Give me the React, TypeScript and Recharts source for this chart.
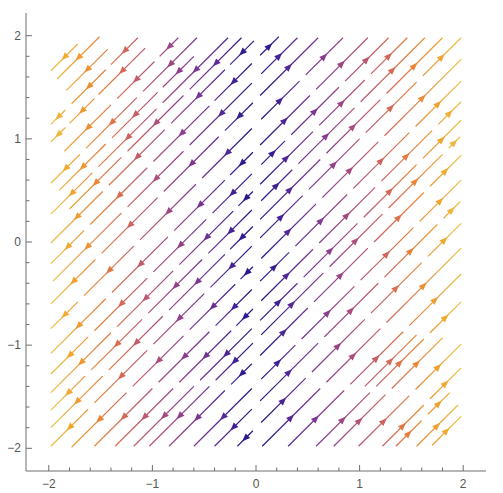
import React from 'react';
import { ScatterChart, XAxis, YAxis, ReferenceLine, Scatter } from 'recharts';

// Streamline intercepts (y - x along each line)
const streamIntercepts: number[] = [
  3.64, 3.5, 3.3, 3.12, 2.95, 2.73, 2.55, 2.4, 2.25, 2.12, 1.97, 1.77, 1.58, 1.38, 1.14, 0.9,
  0.7, 0.52, 0.35, 0.18, 0.0, -0.21, -0.42, -0.62, -0.8, -0.95, -1.14, -1.38, -1.58, -1.8,
  -2.04, -2.29, -2.45, -2.56, -2.73, -2.97, -3.2, -3.33, -3.53, -3.67,
];

// Visible pieces of each streamline, as [x start, x end]
const streamCuts: number[][][] = [
  [[-1.98, -1.72]],
  [[-1.92, -1.51]],
  [[-1.83, -1.43]],
  [[-1.98, -1.84], [-1.78, -1.45], [-1.4, -1.14]],
  [[-1.98, -1.84], [-1.8, -1.56], [-1.52, -1.07]],
  [[-1.85, -1.4], [-1.34, -0.98], [-0.93, -0.75]],
  [[-1.98, -1.7], [-1.64, -1.15], [-1.09, -0.57]],
  [[-1.9, -1.45], [-1.39, -0.95], [-0.9, -0.6]],
  [[-1.98, -1.58], [-1.52, -0.96], [-0.9, -0.27]],
  [[-1.8, -1.3], [-1.24, -0.7], [-0.64, -0.14]],
  [[-1.98, -1.48], [-1.42, -0.88], [-0.82, -0.3], [-0.25, -0.02]],
  [[-1.98, -1.66], [-1.6, -1.05], [-0.99, -0.45], [-0.4, -0.04], [0.04, 0.22]],
  [[-1.96, -1.3], [-1.24, -0.7], [-0.64, -0.04], [0.05, 0.4]],
  [[-1.98, -1.55], [-1.49, -0.95], [-0.89, -0.36], [-0.3, -0.03], [0.04, 0.6]],
  [[-1.98, -1.72], [-1.66, -1.18], [-1.12, -0.58], [-0.52, -0.04], [0.05, 0.42], [0.48, 0.84]],
  [[-1.98, -1.45], [-1.39, -0.85], [-0.79, -0.3], [-0.25, -0.03], [0.04, 0.52], [0.58, 1.08]],
  [[-1.98, -1.62], [-1.56, -1.05], [-0.99, -0.48], [-0.42, -0.04], [0.05, 0.28], [0.34, 0.8], [0.86, 1.28]],
  [[-1.98, -1.4], [-1.34, -0.8], [-0.74, -0.22], [-0.17, -0.03], [0.04, 0.55], [0.61, 1.05], [1.11, 1.46]],
  [[-1.98, -1.65], [-1.59, -1.1], [-1.04, -0.52], [-0.46, -0.04], [0.05, 0.35], [0.41, 0.95], [1.01, 1.63]],
  [[-1.98, -1.48], [-1.42, -0.9], [-0.84, -0.3], [-0.25, -0.03], [0.04, 0.62], [0.68, 1.2], [1.26, 1.8]],
  [[-1.98, -1.62], [-1.56, -1.05], [-0.99, -0.5], [-0.44, -0.04], [0.04, 0.45], [0.51, 1.0], [1.06, 1.55], [1.61, 1.98]],
  [[-1.78, -1.25], [-1.19, -0.7], [-0.64, -0.2], [-0.15, -0.03], [0.05, 0.58], [0.64, 1.18], [1.24, 1.98]],
  [[-1.56, -1.0], [-0.94, -0.45], [-0.39, -0.04], [0.04, 0.32], [0.38, 0.88], [0.94, 1.48], [1.54, 1.98]],
  [[-1.36, -0.8], [-0.74, -0.24], [-0.19, -0.03], [0.05, 0.55], [0.61, 1.15], [1.21, 1.7], [1.76, 1.98]],
  [[-1.18, -0.6], [-0.54, -0.04], [0.04, 0.4], [0.46, 0.98], [1.04, 1.55], [1.61, 1.98]],
  [[-1.03, -0.45], [-0.39, -0.03], [0.05, 0.65], [0.71, 1.22], [1.28, 1.8], [1.86, 1.97]],
  [[-0.84, -0.3], [-0.24, -0.04], [0.04, 0.5], [0.56, 1.08], [1.14, 1.62], [1.68, 1.98]],
  [[-0.6, -0.04], [0.05, 0.38], [0.44, 0.95], [1.01, 1.52], [1.58, 1.98]],
  [[-0.4, -0.04], [0.04, 0.6], [0.66, 1.18], [1.24, 1.75], [1.81, 1.97]],
  [[-0.18, -0.03], [0.05, 0.48], [0.54, 1.05], [1.11, 1.6], [1.66, 1.98]],
  [[0.06, 0.62], [0.68, 1.2], [1.26, 1.98]],
  [[0.31, 0.85], [0.91, 1.42], [1.48, 1.98]],
  [[1.05, 1.55]],
  [[0.58, 1.1], [1.16, 1.62], [1.68, 1.98]],
  [[0.75, 1.25], [1.31, 1.8]],
  [[0.99, 1.48], [1.54, 1.98]],
  [[1.22, 1.62], [1.68, 1.98]],
  [[1.35, 1.6], [1.66, 1.87]],
  [[1.55, 1.95]],
  [[1.7, 1.98]],
];

const axisTicks: number[] = [
  -2, -1.8, -1.6, -1.4, -1.2, -1, -0.8, -0.6, -0.4, -0.2, 0, 0.2, 0.4, 0.6, 0.8, 1, 1.2, 1.4,
  1.6, 1.8, 2,
];
const majorTickLabels: Record<string, string> = { '-2': '−2', '-1': '−1', '0': '0', '1': '1', '2': '2' };

const colorStops: [number, number[]][] = [
  [0, [28, 18, 130]],
  [0.1, [62, 32, 150]],
  [0.22, [104, 48, 150]],
  [0.36, [142, 62, 140]],
  [0.5, [178, 82, 122]],
  [0.64, [212, 102, 88]],
  [0.76, [234, 132, 55]],
  [0.9, [240, 165, 45]],
  [1, [234, 196, 72]],
];

function colorAt(t: number): string {
  const v = Math.max(0, Math.min(1, t));
  for (let i = 1; i < colorStops.length; i++) {
    const [t1, c1] = colorStops[i];
    const [t0, c0] = colorStops[i - 1];
    if (v <= t1) {
      const f = (v - t0) / (t1 - t0);
      const c = c0.map((a, k) => Math.round(a + (c1[k] - a) * f));
      return `rgb(${c[0]},${c[1]},${c[2]})`;
    }
  }
  const c = colorStops[colorStops.length - 1][1];
  return `rgb(${c[0]},${c[1]},${c[2]})`;
}

type Seg = { id: string; c: number; x0: number; x1: number };
const segments: Seg[] = [];
streamIntercepts.forEach((c, i) => {
  streamCuts[i].forEach(([x0, x1], j) => segments.push({ id: `sg${i}_${j}`, c, x0, x1 }));
});

const StreamSeg = (props: any) => {
  const { x1, y1, x2, y2, seg } = props;
  if (![x1, y1, x2, y2].every((v: any) => typeof v === 'number' && isFinite(v))) return null;
  const s: Seg = seg;
  const c0 = colorAt(Math.abs(s.x0) / 2);
  const c1 = colorAt(Math.abs(s.x1) / 2);
  const xm = (s.x0 + s.x1) / 2;
  const cm = colorAt(Math.abs(xm) / 2);
  const len = Math.hypot(x2 - x1, y2 - y1) || 1;
  let ux = (x2 - x1) / len;
  let uy = (y2 - y1) / len;
  if (xm < 0) {
    ux = -ux;
    uy = -uy;
  }
  const mx = (x1 + x2) / 2;
  const my = (y1 + y2) / 2;
  const L = 8;
  const W = 3.2;
  const tx = mx + (ux * L) / 2;
  const ty = my + (uy * L) / 2;
  const bx = mx - (ux * L) / 2;
  const by = my - (uy * L) / 2;
  const px = -uy;
  const py = ux;
  const pts = `${tx},${ty} ${bx + px * W},${by + py * W} ${bx - px * W},${by - py * W}`;
  return (
    <g>
      <defs>
        <linearGradient id={s.id} gradientUnits="userSpaceOnUse" x1={x1} y1={y1} x2={x2} y2={y2}>
          <stop offset="0" stopColor={c0} />
          <stop offset="1" stopColor={c1} />
        </linearGradient>
      </defs>
      <line x1={x1} y1={y1} x2={x2} y2={y2} stroke={`url(#${s.id})`} strokeWidth={1.2} />
      <polygon points={pts} fill={cm} />
    </g>
  );
};

const FRAME = '#6e6e6e';
const LABEL = '#555555';
const FONT = "'Liberation Sans', 'DejaVu Sans', sans-serif";
const isMajor = (v: number) => Math.abs(v - Math.round(v)) < 1e-6;

const BottomTick = (props: any) => {
  const { x, y, payload } = props;
  const v = payload.value;
  const len = isMajor(v) ? 6 : 3.5;
  return (
    <g>
      <line x1={x} y1={y} x2={x} y2={y - len} stroke={FRAME} strokeWidth={1} />
      {isMajor(v) && (
        <text x={x} y={y + 17} textAnchor="middle" fill={LABEL} fontSize={12} fontFamily={FONT}>
          {majorTickLabels[String(Math.round(v))]}
        </text>
      )}
    </g>
  );
};
const TopTick = (props: any) => {
  const { x, y, payload } = props;
  const len = isMajor(payload.value) ? 6 : 3.5;
  return <line x1={x} y1={y} x2={x} y2={y + len} stroke={FRAME} strokeWidth={1} />;
};
const LeftTick = (props: any) => {
  const { x, y, payload } = props;
  const v = payload.value;
  const len = isMajor(v) ? 6 : 3.5;
  return (
    <g>
      <line x1={x} y1={y} x2={x + len} y2={y} stroke={FRAME} strokeWidth={1} />
      {isMajor(v) && (
        <text x={x - 5} y={y + 4} textAnchor="end" fill={LABEL} fontSize={12} fontFamily={FONT}>
          {majorTickLabels[String(Math.round(v))]}
        </text>
      )}
    </g>
  );
};
const RightTick = (props: any) => {
  const { x, y, payload } = props;
  const len = isMajor(payload.value) ? 6 : 3.5;
  return <line x1={x} y1={y} x2={x - len} y2={y} stroke={FRAME} strokeWidth={1} />;
};

export default function App() {
  return (
    <ScatterChart width={495} height={485} margin={{ top: 5, right: 17, bottom: 0, left: 0 }}>
      <XAxis
        type="number"
        dataKey="x"
        domain={[-2.22, 2.22]}
        allowDataOverflow
        ticks={axisTicks}
        interval={0}
        height={22}
        tickSize={0}
        tickMargin={0}
        tickLine={false}
        axisLine={{ stroke: FRAME }}
        tick={<BottomTick />}
      />
      <XAxis
        xAxisId="top"
        orientation="top"
        type="number"
        dataKey="x"
        domain={[-2.22, 2.22]}
        allowDataOverflow
        ticks={axisTicks}
        interval={0}
        height={0}
        tickSize={0}
        tickMargin={0}
        tickLine={false}
        axisLine={{ stroke: FRAME }}
        tick={<TopTick />}
      />
      <YAxis
        type="number"
        dataKey="y"
        domain={[-2.22, 2.22]}
        allowDataOverflow
        ticks={axisTicks}
        interval={0}
        width={18}
        tickSize={0}
        tickMargin={0}
        tickLine={false}
        axisLine={{ stroke: FRAME }}
        tick={<LeftTick />}
      />
      <YAxis
        yAxisId="right"
        orientation="right"
        type="number"
        dataKey="y"
        domain={[-2.22, 2.22]}
        allowDataOverflow
        ticks={axisTicks}
        interval={0}
        width={0}
        tickSize={0}
        tickMargin={0}
        tickLine={false}
        axisLine={{ stroke: FRAME }}
        tick={<RightTick />}
      />
      <Scatter data={[]} isAnimationActive={false} />
      <Scatter data={[]} xAxisId="top" yAxisId="right" isAnimationActive={false} />
      {segments.map((s) => (
        <ReferenceLine
          key={s.id}
          segment={[
            { x: s.x0, y: s.x0 + s.c },
            { x: s.x1, y: s.x1 + s.c },
          ]}
          ifOverflow="visible"
          shape={(p: any) => <StreamSeg {...p} seg={s} />}
        />
      ))}
    </ScatterChart>
  );
}
